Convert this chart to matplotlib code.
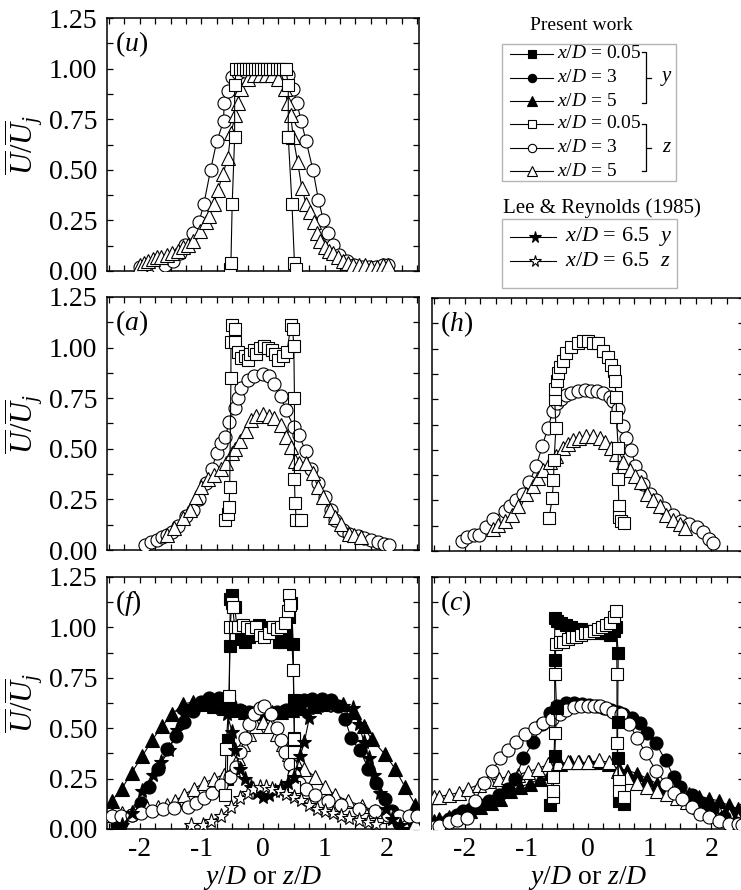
import matplotlib
matplotlib.use("Agg")
import matplotlib.pyplot as plt
from matplotlib.ticker import MultipleLocator, FormatStrFormatter
from matplotlib.patches import Rectangle

plt.rcParams['font.family'] = ['Liberation Serif', 'DejaVu Serif']
plt.rcParams['mathtext.fontset'] = 'custom'
plt.rcParams['mathtext.rm'] = 'Liberation Serif'
plt.rcParams['mathtext.it'] = 'Liberation Serif:italic'
plt.rcParams['mathtext.bf'] = 'Liberation Serif:bold'
plt.rcParams['axes.unicode_minus'] = False

# ---------------- data ----------------
# panel (u)
u_zsq_x = [-0.54, -0.52, -0.50, -0.46, -0.46, -0.43, -0.38, -0.33, -0.28, -0.23, -0.18, -0.13, -0.08, -0.03, 0.02, 0.07, 0.12, 0.17, 0.22, 0.27, 0.32, 0.37, 0.41, 0.41, 0.41, 0.47, 0.51, 0.54]
u_zsq_y = [0.01, 0.04, 0.33, 0.66, 0.92, 1.00, 1.00, 1.00, 1.00, 1.00, 1.00, 1.00, 1.00, 1.00, 1.00, 1.00, 1.00, 1.00, 1.00, 1.00, 1.00, 1.00, 0.92, 0.66, 0.66, 0.33, 0.04, 0.01]
u_zcir_x = [-2.00, -1.90, -1.80, -1.70, -1.59, -1.46, -1.34, -1.26, -1.13, -1.04, -0.96, -0.85, -0.75, -0.64, -0.63, -0.57, -0.50, -0.40, -0.30, -0.20, -0.10, 0.00, 0.10, 0.20, 0.30, 0.40, 0.48, 0.55, 0.62, 0.70, 0.81, 0.90, 0.98, 1.06, 1.14, 1.24, 1.36, 1.48, 1.60, 1.72, 1.84, 1.95, 2.02]
u_zcir_y = [0.02, 0.02, 0.02, 0.02, 0.03, 0.05, 0.09, 0.13, 0.19, 0.24, 0.33, 0.50, 0.64, 0.74, 0.83, 0.89, 0.96, 0.98, 0.99, 0.99, 0.99, 0.99, 0.99, 0.99, 0.98, 0.97, 0.90, 0.83, 0.74, 0.64, 0.50, 0.35, 0.25, 0.19, 0.13, 0.08, 0.05, 0.03, 0.02, 0.02, 0.02, 0.03, 0.03]
u_ztri_x = [-2.00, -1.93, -1.86, -1.79, -1.72, -1.65, -1.56, -1.47, -1.38, -1.30, -1.21, -1.13, -1.02, -0.93, -0.87, -0.80, -0.73, -0.65, -0.57, -0.52, -0.45, -0.41, -0.35, -0.25, -0.15, -0.05, 0.05, 0.15, 0.25, 0.35, 0.40, 0.45, 0.49, 0.56, 0.63, 0.70, 0.76, 0.82, 0.87, 0.93, 1.00, 1.07, 1.13, 1.22, 1.30, 1.38, 1.46, 1.55, 1.65, 1.75, 1.85, 1.95, 2.02]
u_ztri_y = [0.03, 0.04, 0.05, 0.06, 0.07, 0.07, 0.08, 0.09, 0.10, 0.12, 0.13, 0.15, 0.20, 0.24, 0.27, 0.33, 0.40, 0.48, 0.56, 0.68, 0.77, 0.83, 0.90, 0.95, 0.97, 0.97, 0.97, 0.97, 0.95, 0.90, 0.83, 0.77, 0.66, 0.54, 0.41, 0.33, 0.29, 0.24, 0.19, 0.15, 0.12, 0.10, 0.09, 0.07, 0.05, 0.04, 0.03, 0.03, 0.03, 0.02, 0.02, 0.03, 0.03]

# panel (a)
a_zsq_x = [-0.62, -0.57, -0.55, -0.54, -0.52, -0.52, -0.51, -0.46, -0.45, -0.40, -0.36, -0.30, -0.25, -0.21, -0.15, -0.11, -0.05, 0.02, 0.08, 0.14, 0.20, 0.25, 0.32, 0.39, 0.45, 0.48, 0.50, 0.51, 0.51, 0.52, 0.54, 0.62]
a_zsq_y = [0.15, 0.18, 0.21, 0.31, 0.85, 1.03, 1.11, 1.09, 1.03, 0.98, 0.95, 0.96, 0.94, 0.97, 0.99, 0.97, 1.00, 1.01, 1.00, 0.99, 0.97, 0.94, 0.96, 0.98, 1.11, 1.09, 1.01, 0.75, 0.35, 0.23, 0.15, 0.15]
a_zcir_x = [-1.92, -1.82, -1.72, -1.63, -1.55, -1.48, -1.38, -1.25, -1.14, -1.03, -0.92, -0.83, -0.75, -0.68, -0.61, -0.55, -0.46, -0.41, -0.36, -0.25, -0.14, 0.00, 0.10, 0.18, 0.29, 0.37, 0.50, 0.58, 0.69, 0.78, 0.89, 1.00, 1.10, 1.16, 1.29, 1.40, 1.54, 1.64, 1.75, 1.86, 1.97, 2.05]
a_zcir_y = [0.025, 0.04, 0.05, 0.066, 0.074, 0.087, 0.12, 0.17, 0.20, 0.25, 0.33, 0.40, 0.48, 0.53, 0.56, 0.63, 0.70, 0.75, 0.80, 0.84, 0.86, 0.87, 0.86, 0.82, 0.76, 0.69, 0.61, 0.57, 0.49, 0.40, 0.33, 0.26, 0.20, 0.15, 0.10, 0.08, 0.07, 0.06, 0.05, 0.04, 0.03, 0.025]
a_ztri_x = [-1.55, -1.44, -1.30, -1.19, -1.09, -1.00, -0.90, -0.79, -0.68, -0.60, -0.51, -0.46, -0.37, -0.28, -0.19, -0.11, 0.00, 0.10, 0.18, 0.29, 0.37, 0.45, 0.52, 0.59, 0.70, 0.81, 0.89, 0.97, 1.08, 1.16, 1.26, 1.40, 1.48, 1.59]
a_ztri_y = [0.074, 0.11, 0.16, 0.20, 0.26, 0.31, 0.35, 0.37, 0.40, 0.43, 0.48, 0.50, 0.54, 0.59, 0.64, 0.66, 0.67, 0.66, 0.65, 0.62, 0.56, 0.51, 0.44, 0.43, 0.43, 0.38, 0.31, 0.26, 0.20, 0.165, 0.13, 0.08, 0.074, 0.066]

# panel (h)
h_zsq_x = [-0.63, -0.58, -0.56, -0.55, -0.52, -0.54, -0.54, -0.51, -0.49, -0.46, -0.41, -0.35, -0.27, -0.16, -0.08, 0.00, 0.08, 0.16, 0.24, 0.32, 0.38, 0.42, 0.43, 0.46, 0.46, 0.49, 0.49, 0.50, 0.51, 0.54, 0.58]
h_zsq_y = [0.165, 0.26, 0.35, 0.45, 0.61, 0.75, 0.80, 0.84, 0.88, 0.91, 0.94, 0.98, 1.01, 1.03, 1.04, 1.04, 1.03, 1.03, 0.99, 0.96, 0.92, 0.89, 0.84, 0.76, 0.66, 0.51, 0.355, 0.22, 0.17, 0.15, 0.14]
h_zcir_x = [-2.05, -1.96, -1.85, -1.76, -1.66, -1.54, -1.35, -1.27, -1.16, -1.05, -0.95, -0.84, -0.74, -0.65, -0.57, -0.51, -0.43, -0.35, -0.27, -0.16, -0.05, 0.05, 0.14, 0.24, 0.35, 0.41, 0.49, 0.57, 0.62, 0.70, 0.77, 0.84, 0.90, 1.00, 1.11, 1.24, 1.38, 1.51, 1.64, 1.76, 1.86, 1.96, 2.03]
h_zcir_y = [0.05, 0.07, 0.08, 0.08, 0.12, 0.16, 0.20, 0.22, 0.25, 0.28, 0.34, 0.42, 0.52, 0.61, 0.69, 0.73, 0.75, 0.77, 0.78, 0.79, 0.795, 0.79, 0.79, 0.78, 0.76, 0.74, 0.70, 0.62, 0.56, 0.50, 0.42, 0.37, 0.33, 0.28, 0.25, 0.21, 0.18, 0.15, 0.135, 0.12, 0.094, 0.06, 0.04]
h_ztri_x = [-1.54, -1.46, -1.35, -1.24, -1.14, -1.00, -0.89, -0.81, -0.73, -0.62, -0.52, -0.41, -0.32, -0.24, -0.14, -0.03, 0.08, 0.19, 0.27, 0.38, 0.46, 0.57, 0.68, 0.76, 0.86, 0.95, 1.05, 1.16, 1.27, 1.38, 1.49, 1.57]
h_ztri_y = [0.11, 0.13, 0.15, 0.18, 0.22, 0.28, 0.32, 0.36, 0.40, 0.44, 0.47, 0.51, 0.53, 0.55, 0.56, 0.57, 0.57, 0.56, 0.54, 0.51, 0.48, 0.44, 0.40, 0.37, 0.34, 0.28, 0.25, 0.22, 0.18, 0.155, 0.135, 0.115]

# panel (f)
f_ysq_x = [-0.58, -0.57, -0.55, -0.54, -0.53, -0.50, -0.46, -0.42, -0.36, -0.30, -0.22, -0.14, -0.06, 0.02, 0.10, 0.18, 0.26, 0.32, 0.38, 0.42, 0.46, 0.49, 0.50, 0.51, 0.51, 0.52]
f_ysq_y = [0.25, 0.44, 0.64, 0.91, 1.14, 1.16, 1.10, 1.00, 0.94, 0.93, 0.95, 1.00, 1.01, 0.99, 1.00, 0.97, 0.93, 0.93, 0.98, 1.05, 1.12, 0.92, 0.64, 0.45, 0.30, 0.22]
f_zsq_x = [-0.62, -0.60, -0.55, -0.53, -0.51, -0.49, -0.46, -0.40, -0.33, -0.26, -0.19, -0.12, -0.05, 0.02, 0.09, 0.16, 0.23, 0.30, 0.36, 0.40, 0.42, 0.44, 0.49, 0.51, 0.51, 0.51]
f_zsq_y = [0.17, 0.395, 0.66, 1.00, 1.12, 1.10, 1.00, 1.00, 1.01, 1.00, 0.99, 1.00, 0.96, 0.95, 0.97, 1.00, 0.99, 1.00, 1.02, 1.08, 1.16, 1.11, 0.79, 0.445, 0.38, 0.21]
f_ycir_x = [-2.36, -2.31, -2.13, -1.98, -1.85, -1.71, -1.55, -1.41, -1.28, -1.14, -1.00, -0.87, -0.71, -0.54, -0.38, -0.22, 0.00, 0.22, 0.38, 0.52, 0.66, 0.80, 0.95, 1.10, 1.22, 1.33, 1.43, 1.57, 1.71, 1.84, 1.98, 2.09, 2.20, 2.36]
f_ycir_y = [0.02, 0.03, 0.07, 0.13, 0.21, 0.30, 0.395, 0.46, 0.53, 0.585, 0.63, 0.65, 0.65, 0.62, 0.59, 0.58, 0.575, 0.58, 0.59, 0.62, 0.64, 0.645, 0.645, 0.64, 0.61, 0.545, 0.45, 0.39, 0.30, 0.23, 0.15, 0.09, 0.03, 0.02]
f_ytri_x = [-2.45, -2.29, -2.13, -1.96, -1.80, -1.64, -1.47, -1.30, -1.13, -0.96, -0.80, -0.63, -0.47, -0.30, -0.14, 0.00, 0.14, 0.30, 0.47, 0.63, 0.80, 0.96, 1.13, 1.30, 1.47, 1.63, 1.76, 1.98, 2.14, 2.30, 2.47]
f_ytri_y = [0.14, 0.20, 0.28, 0.36, 0.44, 0.51, 0.57, 0.62, 0.63, 0.62, 0.61, 0.60, 0.59, 0.58, 0.58, 0.575, 0.58, 0.58, 0.59, 0.60, 0.61, 0.62, 0.63, 0.62, 0.58, 0.51, 0.445, 0.37, 0.30, 0.21, 0.12]
f_zcir_x = [-2.45, -2.30, -2.13, -1.98, -1.80, -1.62, -1.44, -1.22, -1.09, -0.95, -0.82, -0.68, -0.54, -0.43, -0.37, -0.30, -0.22, -0.14, -0.05, 0.02, 0.13, 0.22, 0.29, 0.36, 0.43, 0.51, 0.59, 0.70, 0.84, 1.05, 1.27, 1.55, 1.82, 2.03, 2.20, 2.36, 2.49]
f_zcir_y = [0.064, 0.065, 0.07, 0.08, 0.09, 0.10, 0.105, 0.11, 0.13, 0.155, 0.18, 0.22, 0.26, 0.31, 0.38, 0.45, 0.52, 0.57, 0.60, 0.61, 0.57, 0.50, 0.44, 0.38, 0.32, 0.27, 0.23, 0.20, 0.17, 0.14, 0.12, 0.10, 0.09, 0.07, 0.064, 0.064, 0.064]
f_ztri_x = [-2.45, -2.28, -2.10, -1.88, -1.70, -1.55, -1.42, -1.28, -1.12, -0.95, -0.79, -0.64, -0.49, -0.40, -0.32, -0.22, -0.12, 0.00, 0.12, 0.22, 0.32, 0.42, 0.52, 0.67, 0.84, 1.00, 1.16, 1.38, 1.60, 1.82, 2.05, 2.25, 2.47]
f_ztri_y = [0.07, 0.08, 0.09, 0.105, 0.11, 0.12, 0.14, 0.17, 0.20, 0.23, 0.25, 0.27, 0.30, 0.35, 0.42, 0.47, 0.51, 0.53, 0.51, 0.47, 0.42, 0.37, 0.34, 0.30, 0.26, 0.21, 0.17, 0.14, 0.114, 0.09, 0.065, 0.047, 0.03]
f_ystar_x = [-2.28, -2.12, -1.96, -1.79, -1.65, -1.52, -1.40, -1.28, -1.15, -1.00, -0.85, -0.70, -0.58, -0.50, -0.45, -0.38, -0.30, -0.20, -0.10, 0.00, 0.10, 0.20, 0.30, 0.40, 0.51, 0.60, 0.67, 0.75, 0.88, 1.02, 1.16, 1.30, 1.46, 1.55, 1.64, 1.72, 1.80, 1.90, 2.00, 2.10, 2.22]
f_ystar_y = [0.02, 0.08, 0.19, 0.27, 0.33, 0.39, 0.49, 0.57, 0.61, 0.62, 0.61, 0.60, 0.57, 0.48, 0.39, 0.30, 0.25, 0.21, 0.18, 0.16, 0.17, 0.19, 0.21, 0.23, 0.26, 0.36, 0.43, 0.55, 0.60, 0.61, 0.61, 0.61, 0.60, 0.52, 0.43, 0.35, 0.27, 0.18, 0.10, 0.05, 0.02]
f_zstar_x = [-1.17, -0.98, -0.84, -0.68, -0.52, -0.38, -0.25, -0.16, -0.05, 0.05, 0.15, 0.27, 0.38, 0.50, 0.62, 0.75, 0.88, 1.00, 1.14, 1.27, 1.40, 1.55, 1.70, 1.84]
f_zstar_y = [0.02, 0.02, 0.04, 0.064, 0.11, 0.155, 0.18, 0.20, 0.21, 0.21, 0.20, 0.19, 0.175, 0.16, 0.145, 0.12, 0.10, 0.09, 0.08, 0.065, 0.055, 0.045, 0.035, 0.025]

# panel (c)
c_ysq_x = [-0.62, -0.54, -0.51, -0.54, -0.54, -0.50, -0.43, -0.36, -0.28, -0.20, -0.12, -0.04, 0.04, 0.12, 0.20, 0.28, 0.35, 0.42, 0.46, 0.49, 0.48, 0.48, 0.50, 0.59]
c_ysq_y = [0.12, 0.36, 0.60, 0.84, 1.045, 1.03, 1.02, 1.01, 1.00, 0.99, 0.99, 0.98, 0.98, 0.98, 0.97, 0.97, 0.96, 0.98, 1.00, 0.875, 0.53, 0.35, 0.14, 0.125]
c_zsq_x = [-0.57, -0.56, -0.56, -0.54, -0.54, -0.52, -0.46, -0.40, -0.33, -0.26, -0.19, -0.12, -0.05, 0.02, 0.09, 0.16, 0.23, 0.30, 0.36, 0.42, 0.46, 0.47, 0.47, 0.50, 0.50, 0.59]
c_zsq_y = [0.16, 0.19, 0.26, 0.475, 0.77, 0.92, 0.93, 0.93, 0.94, 0.95, 0.95, 0.96, 0.97, 0.97, 0.98, 0.99, 1.00, 1.01, 1.02, 1.05, 1.08, 0.77, 0.425, 0.24, 0.19, 0.16]
c_ycir_x = [-2.49, -2.39, -2.26, -2.12, -2.02, -1.90, -1.75, -1.60, -1.45, -1.30, -1.18, -1.05, -0.89, -0.75, -0.62, -0.50, -0.35, -0.22, -0.10, 0.02, 0.14, 0.26, 0.38, 0.48, 0.56, 0.72, 0.85, 0.96, 1.10, 1.26, 1.39, 1.50, 1.69, 1.85, 2.01, 2.20, 2.40, 2.50]
c_ycir_y = [0.02, 0.03, 0.05, 0.07, 0.09, 0.10, 0.12, 0.14, 0.17, 0.20, 0.25, 0.35, 0.43, 0.52, 0.575, 0.61, 0.625, 0.625, 0.62, 0.615, 0.61, 0.60, 0.59, 0.58, 0.57, 0.55, 0.525, 0.475, 0.425, 0.34, 0.26, 0.21, 0.167, 0.13, 0.10, 0.06, 0.03, 0.02]
c_zcir_x = [-2.49, -2.42, -2.26, -2.12, -1.96, -1.83, -1.69, -1.56, -1.42, -1.29, -1.16, -1.02, -0.86, -0.73, -0.58, -0.46, -0.35, -0.22, -0.11, 0.00, 0.10, 0.20, 0.29, 0.40, 0.53, 0.67, 0.80, 0.94, 1.10, 1.26, 1.40, 1.53, 1.69, 1.82, 1.96, 2.12, 2.28, 2.44, 2.50]
c_zcir_y = [0.01, 0.017, 0.033, 0.045, 0.055, 0.14, 0.23, 0.29, 0.35, 0.39, 0.43, 0.47, 0.50, 0.525, 0.545, 0.57, 0.59, 0.605, 0.61, 0.61, 0.61, 0.61, 0.60, 0.58, 0.57, 0.52, 0.45, 0.375, 0.29, 0.225, 0.18, 0.15, 0.11, 0.075, 0.058, 0.042, 0.025, 0.025, 0.02]
c_ytri_x = [-2.49, -2.42, -2.26, -2.10, -1.91, -1.75, -1.58, -1.42, -1.26, -1.10, -0.94, -0.78, -0.62, -0.46, -0.30, -0.14, 0.02, 0.18, 0.34, 0.50, 0.64, 0.80, 0.96, 1.12, 1.28, 1.45, 1.63, 1.80, 1.96, 2.12, 2.28, 2.44, 2.50]
c_ytri_y = [0.04, 0.05, 0.06, 0.075, 0.09, 0.11, 0.13, 0.15, 0.19, 0.21, 0.225, 0.25, 0.28, 0.32, 0.33, 0.33, 0.33, 0.33, 0.32, 0.30, 0.29, 0.275, 0.25, 0.225, 0.21, 0.19, 0.175, 0.16, 0.15, 0.14, 0.117, 0.10, 0.095]
c_ztri_x = [-2.50, -2.42, -2.26, -2.10, -1.94, -1.77, -1.61, -1.45, -1.29, -1.13, -0.97, -0.81, -0.65, -0.48, -0.32, -0.16, 0.00, 0.18, 0.34, 0.48, 0.64, 0.80, 0.96, 1.12, 1.28, 1.45, 1.61, 1.80, 1.96, 2.12, 2.28, 2.44]
c_ztri_y = [0.16, 0.16, 0.17, 0.18, 0.20, 0.22, 0.24, 0.25, 0.26, 0.27, 0.285, 0.30, 0.32, 0.325, 0.33, 0.33, 0.33, 0.34, 0.33, 0.29, 0.26, 0.23, 0.21, 0.19, 0.175, 0.155, 0.135, 0.11, 0.09, 0.08, 0.067, 0.05]

panel_labels = ['u', 'a', 'h', 'f', 'c']
x_ticks = [-2, -1, 0, 1, 2]
y_ticks = [0.00, 0.25, 0.50, 0.75, 1.00, 1.25]
legend_present = ['0.05', '3', '5', '0.05', '3', '5']
legend_lee = ['y', 'z']

# ---------------- figure ----------------
W, H = 741, 890
fig = plt.figure(figsize=(W / 100, H / 100), dpi=100)


def px_axes(l, t, r, b):
    return fig.add_axes([l / W, 1 - b / H, (r - l) / W, (b - t) / H])


MS = {'s': 8.0, 'o': 9.4, '^': 10.0, '*': 11.0}


def series(ax, x, y, marker, filled, z=3):
    ax.plot(x, y, '-', color='black', lw=0.8, marker=marker, ms=MS[marker],
            mfc='black' if filled else 'white', mec='black', mew=0.8,
            zorder=z, clip_on=True)


def style(ax, label, ylab, xlab):
    ax.set_xlim(-2.53, 2.53)
    ax.set_ylim(0, 1.25)
    ax.xaxis.set_minor_locator(MultipleLocator(0.25))
    ax.yaxis.set_minor_locator(MultipleLocator(0.125))
    ax.set_yticks(y_ticks)
    ax.yaxis.set_major_formatter(FormatStrFormatter('%.2f'))
    ax.set_xticks(x_ticks)
    ax.tick_params(which='both', direction='in', top=True, right=True,
                   length=4, width=0.9, labelsize=20, pad=7)
    ax.tick_params(axis='x', pad=6)
    for sp in ax.spines.values():
        sp.set_linewidth(1.1)
    if not ylab:
        ax.tick_params(labelleft=False)
    else:
        ax.set_ylabel(r'$\overline{U}/\overline{U}_j$', fontsize=22)
        ax.yaxis.set_label_coords(-0.2, 0.5)
    if not xlab:
        ax.tick_params(labelbottom=False)
    else:
        ax.set_xlabel(r'$y/D$ or $z/D$', fontsize=20, labelpad=1)
    ax.text(0.025, 0.955, '(' + r'$%s$' % label + ')', transform=ax.transAxes,
            fontsize=20, ha='left', va='top')


ax_u = px_axes(107, 18, 419, 271)
ax_a = px_axes(107, 297, 419, 550)
ax_h = px_axes(432, 298, 744, 551)
ax_f = px_axes(107, 577, 419, 829)
ax_c = px_axes(432, 577, 744, 829)

series(ax_u, u_zcir_x, u_zcir_y, 'o', False)
series(ax_u, u_ztri_x, u_ztri_y, '^', False)
series(ax_u, u_zsq_x, u_zsq_y, 's', False)

series(ax_a, a_zcir_x, a_zcir_y, 'o', False)
series(ax_a, a_ztri_x, a_ztri_y, '^', False)
series(ax_a, a_zsq_x, a_zsq_y, 's', False)

series(ax_h, h_zcir_x, h_zcir_y, 'o', False)
series(ax_h, h_ztri_x, h_ztri_y, '^', False)
series(ax_h, h_zsq_x, h_zsq_y, 's', False)

series(ax_f, f_ytri_x, f_ytri_y, '^', True)
series(ax_f, f_ycir_x, f_ycir_y, 'o', True)
series(ax_f, f_ysq_x, f_ysq_y, 's', True)
series(ax_f, f_ztri_x, f_ztri_y, '^', False)
series(ax_f, f_zcir_x, f_zcir_y, 'o', False)
series(ax_f, f_zsq_x, f_zsq_y, 's', False)
series(ax_f, f_ystar_x, f_ystar_y, '*', True)
series(ax_f, f_zstar_x, f_zstar_y, '*', False)

series(ax_c, c_ytri_x, c_ytri_y, '^', True)
series(ax_c, c_ztri_x, c_ztri_y, '^', False)
series(ax_c, c_ycir_x, c_ycir_y, 'o', True)
series(ax_c, c_zcir_x, c_zcir_y, 'o', False)
series(ax_c, c_ysq_x, c_ysq_y, 's', True)
series(ax_c, c_zsq_x, c_zsq_y, 's', False)

style(ax_u, panel_labels[0], True, False)
style(ax_a, panel_labels[1], True, False)
style(ax_h, panel_labels[2], False, False)
style(ax_f, panel_labels[3], True, True)
style(ax_c, panel_labels[4], False, True)

# ---------------- legend (drawn in pixel space) ----------------
lg = fig.add_axes([0, 0, 1, 1], zorder=10)
lg.set_xlim(0, W)
lg.set_ylim(H, 0)
lg.axis('off')
lg.patch.set_alpha(0)

lg.text(581, 25, 'Present work', fontsize=14, ha='center', va='center')
lg.add_patch(Rectangle((502, 44), 174, 137, fill=False, ec='#b5b5b5', lw=1.0))
rows_y = [54, 78, 101, 124, 148, 171]
mk = ['s', 'o', '^', 's', 'o', '^']
LMS = {'s': 5.5, 'o': 6.0, '^': 6.5, '*': 8.5}
for i, yy in enumerate(rows_y):
    filled = i < 3
    lg.plot([510, 553], [yy, yy], color='black', lw=0.8)
    lg.plot([532], [yy], marker=mk[i], ms=LMS[mk[i]], mfc='black' if filled else 'white',
            mec='black', mew=0.8)
    lg.text(557, yy, r'$x/D$ = ' + legend_present[i], fontsize=14, ha='left', va='center')
for (t, b, m, lab) in [(52, 103, 78, 'y'), (124, 171, 148, 'z')]:
    lg.plot([642, 646, 646, 642], [t, t, b, b], color='black', lw=0.9)
    lg.plot([646, 651], [m, m], color='black', lw=0.9)
    lg.text(667, m, r'$%s$' % lab, fontsize=15, ha='center', va='center')

lg.text(602, 208, 'Lee & Reynolds (1985)', fontsize=15, ha='center', va='center')
lg.add_patch(Rectangle((502, 219), 175, 69, fill=False, ec='#b5b5b5', lw=1.0))
for i, yy in enumerate([237, 261]):
    lg.plot([510, 556], [yy, yy], color='black', lw=0.8)
    lg.plot([535], [yy], marker='*', ms=LMS['*'], mfc='black' if i == 0 else 'white',
            mec='black', mew=0.8)
    lg.text(565, yy, r'$x/D$ = 6.5  $%s$' % legend_lee[i], fontsize=16, ha='left', va='center')

fig.savefig('out.png', dpi=100)
